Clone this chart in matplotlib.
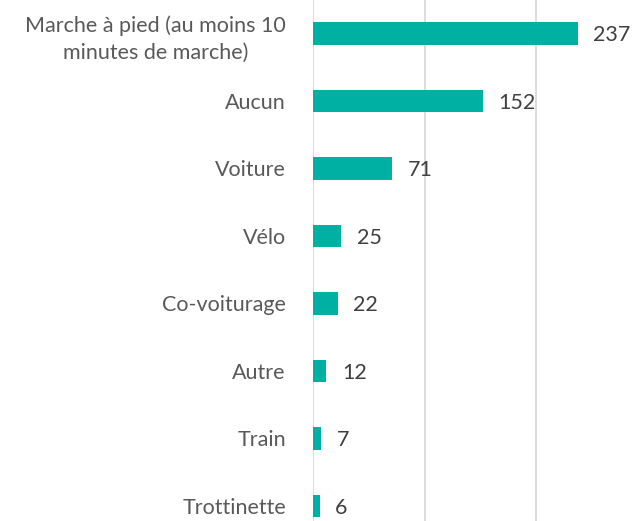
import matplotlib
matplotlib.use("Agg")
import matplotlib.pyplot as plt

categories = ["Marche à pied (au moins 10\nminutes de marche)", "Aucun", "Voiture", "Vélo",
              "Co-voiturage", "Autre", "Train", "Trottinette"]
values = [237, 152, 71, 25, 22, 12, 7, 6]

bar_color = "#00B0A3"
W, H = 634, 521
fig = plt.figure(figsize=(W / 100, H / 100), dpi=100)

# axes geometry in pixels
left_px = 313
px_per_unit = 1.117
xmax = 300
y0_px = 33.5
step_px = 67.5
ylo, yhi = -0.6, 7.6
top_px = y0_px + ylo * step_px
bot_px = y0_px + yhi * step_px
ax = fig.add_axes([left_px / W, 1 - bot_px / H, xmax * px_per_unit / W, (bot_px - top_px) / H])

font = "Lato"
fs = 15.5
ypos = list(range(len(categories)))
ax.barh(ypos, values, height=0.34, color=bar_color, zorder=3)
ax.set_xlim(0, xmax)
ax.set_ylim(yhi, ylo)
ax.set_xticks([0, 100, 200, 300])
ax.xaxis.grid(True, color="#d9d9d9", linewidth=1.3, zorder=0)
ax.tick_params(axis="x", bottom=False, labelbottom=False)
ax.tick_params(axis="y", left=False, pad=16)
ax.set_yticks(ypos)
ax.set_yticklabels(categories, fontsize=fs, color="#595959", family=font,
                   multialignment="center", linespacing=1.45)
for s in ax.spines.values():
    s.set_visible(False)

for y, v in zip(ypos, values):
    ax.text(v + 14, y, str(v), va="center_baseline", ha="left", fontsize=fs,
            color="#404040", family=font)

fig.savefig("out.png", dpi=100)
